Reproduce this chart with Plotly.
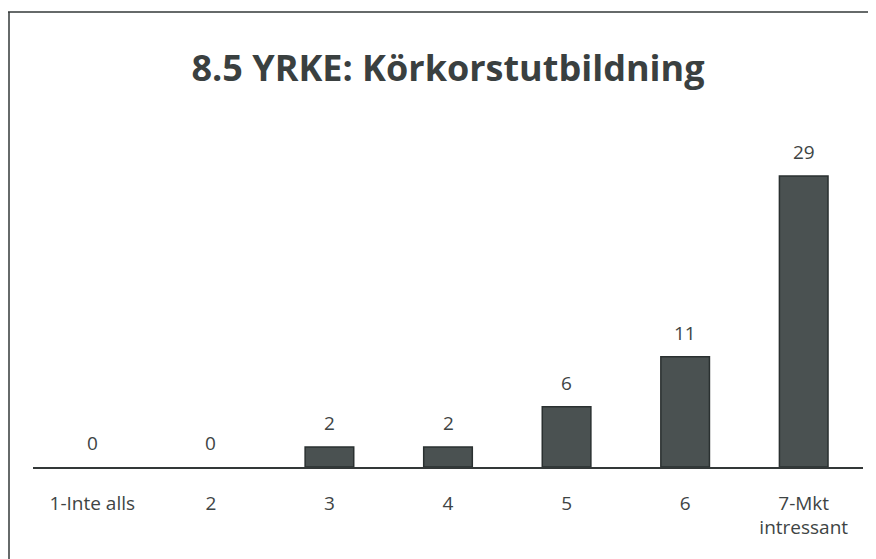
import plotly.graph_objects as go

categories = ["1-Inte alls", "2", "3", "4", "5", "6", "7-Mkt<br>intressant"]
values = [0, 0, 2, 2, 6, 11, 29]
title_text = "8.5 YRKE: Körkorstutbildning"

# page body has an 8px margin; figure is sized/offset to compensate
W, H = 868, 551
L, R, T, B = 25, 13, 138, 92
plot_w = W - L - R
plot_h = H - T - B

fig = go.Figure()
fig.add_trace(go.Bar(
    x=categories,
    y=values,
    marker=dict(
        color="#4a5151",
        line=dict(color="#2a3030", width=[1.5 if v > 0 else 0 for v in values]),
    ),
    width=0.41,
))

# value labels: category axis positions are given by index
annotations = [
    dict(x=i, y=v, xref="x", yref="y", text=str(v), showarrow=False,
         yanchor="bottom", yshift=9,
         font=dict(family="Open Sans", size=19, color="#3e4444"))
    for i, v in enumerate(values)
]

fig.update_layout(
    width=W, height=H,
    margin=dict(l=L, r=R, t=T, b=B),
    paper_bgcolor="white",
    plot_bgcolor="white",
    showlegend=False,
    annotations=annotations,
    title=dict(
        text=title_text,
        x=440 / W, xanchor="center",
        y=1 - 60 / H, yanchor="middle",
        font=dict(family="Open Sans", size=36, color="#3a4040", weight="bold"),
    ),
    xaxis=dict(
        type="category",
        showline=True, linecolor="#333838", linewidth=1.5,
        ticks="", showgrid=False,
        ticklabelstandoff=18,
        tickfont=dict(family="Open Sans", size=19, color="#3e4444"),
    ),
    yaxis=dict(
        range=[0, 32], visible=False, showgrid=False, zeroline=False,
    ),
    shapes=[
        dict(type="line", xref="paper", yref="paper",
             x0=-L / plot_w, x1=(W - L) / plot_w,
             y0=(H - B - 4) / plot_h, y1=(H - B - 4) / plot_h,
             line=dict(color="#333838", width=1.5)),
        dict(type="line", xref="paper", yref="paper",
             x0=(1 - L) / plot_w, x1=(1 - L) / plot_w,
             y0=(H - B - 4) / plot_h, y1=-B / plot_h,
             line=dict(color="#333838", width=1.5)),
    ],
)

fig.write_html("out.html")
